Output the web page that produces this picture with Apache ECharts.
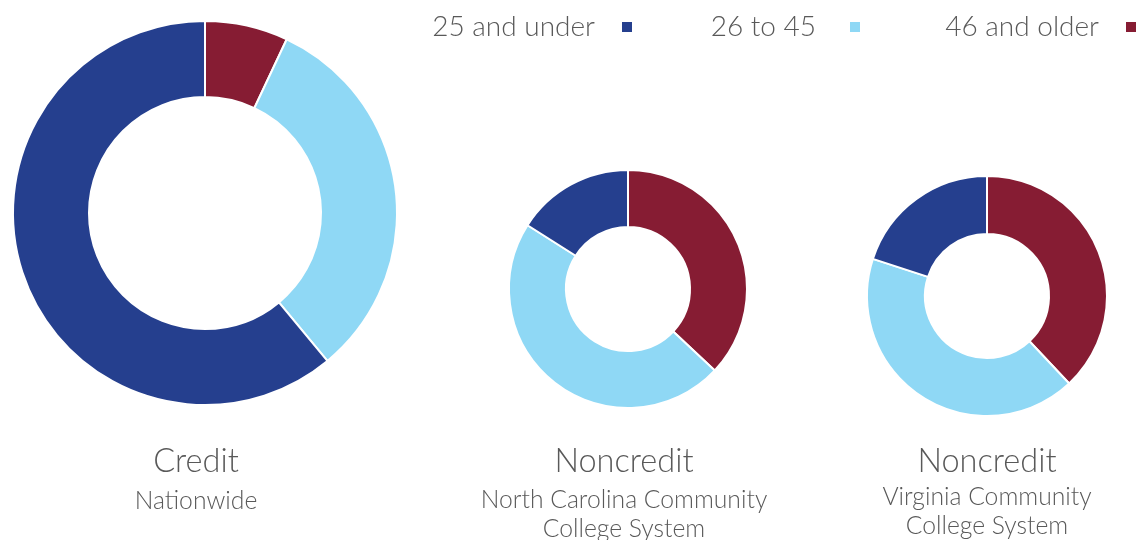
<!DOCTYPE html>
<html>
<head>
<meta charset="utf-8">
<script src="https://cdn.jsdelivr.net/npm/echarts@6/dist/echarts.min.js"></script>
<style>html,body{margin:0;padding:0;background:#fff;}#c{width:1142px;height:540px;}</style>
</head>
<body>
<div id="c"></div>
<script>
const ageGroups = ['25 and under', '26 to 45', '46 and older'];
const colors = {'25 and under': '#253F8E', '26 to 45': '#8FD8F5', '46 and older': '#861C33'};
const chartTitles = ['Credit', 'Noncredit', 'Noncredit'];
const chartSubtitles = ['Nationwide', 'North Carolina Community\nCollege System', 'Virginia Community\nCollege System'];
const creditNationwide = [61, 32, 7];      // 25 and under, 26 to 45, 46 and older
const noncreditNC = [16, 47, 37];
const noncreditVA = [20, 42, 38];

const FONT = 'Lato';
const GREY = '#595959';

const layouts = [
  {center: [205, 213], radius: [116, 192], titleX: 196, titleTop: 445, subGap: 9},
  {center: [628, 289], radius: [62, 119], titleX: 624, titleTop: 445, subGap: 8},
  {center: [987, 296], radius: [62, 120], titleX: 987, titleTop: 445, subGap: 5}
];
const datasets = [creditNationwide, noncreditNC, noncreditVA];
// legend item placement: distance of icon's right edge from the chart's right edge, text-to-icon padding
const legendPlace = [{right: 508, pad: 21}, {right: 280, pad: 28}, {right: 4, pad: 21}];

function pieData(vals) {
  // clockwise from 12 o'clock: 46 and older, 26 to 45, 25 and under
  return [2, 1, 0].map(i => ({name: ageGroups[i], value: vals[i], itemStyle: {color: colors[ageGroups[i]]}}));
}

const chart = echarts.init(document.getElementById('c'), null, {renderer: 'canvas'});
chart.setOption({
  backgroundColor: '#fff',
  animation: false,
  color: ageGroups.map(g => colors[g]),
  legend: ageGroups.map((g, i) => ({
    data: [g],
    right: legendPlace[i].right,
    top: 13,
    padding: 0,
    align: 'right',
    itemWidth: 12,
    itemHeight: 12,
    icon: 'rect',
    selectedMode: false,
    textStyle: {fontFamily: FONT, fontWeight: 300, fontSize: 28, color: GREY, padding: [0, legendPlace[i].pad, 0, 0]}
  })),
  title: layouts.map((l, k) => ({
    text: chartTitles[k],
    subtext: chartSubtitles[k],
    left: l.titleX,
    top: l.titleTop,
    padding: 0,
    textAlign: 'center',
    itemGap: l.subGap,
    textStyle: {fontFamily: FONT, fontWeight: 300, fontSize: 32.5, color: GREY},
    subtextStyle: {fontFamily: FONT, fontWeight: 300, fontSize: 24.7, color: GREY, lineHeight: 28.5}
  })),
  series: layouts.map((l, k) => ({
    type: 'pie',
    center: l.center,
    radius: l.radius,
    startAngle: 90,
    clockwise: true,
    label: {show: false},
    labelLine: {show: false},
    emphasis: {disabled: true},
    itemStyle: {borderColor: '#fff', borderWidth: 2},
    data: pieData(datasets[k])
  }))
});
</script>
</body>
</html>
